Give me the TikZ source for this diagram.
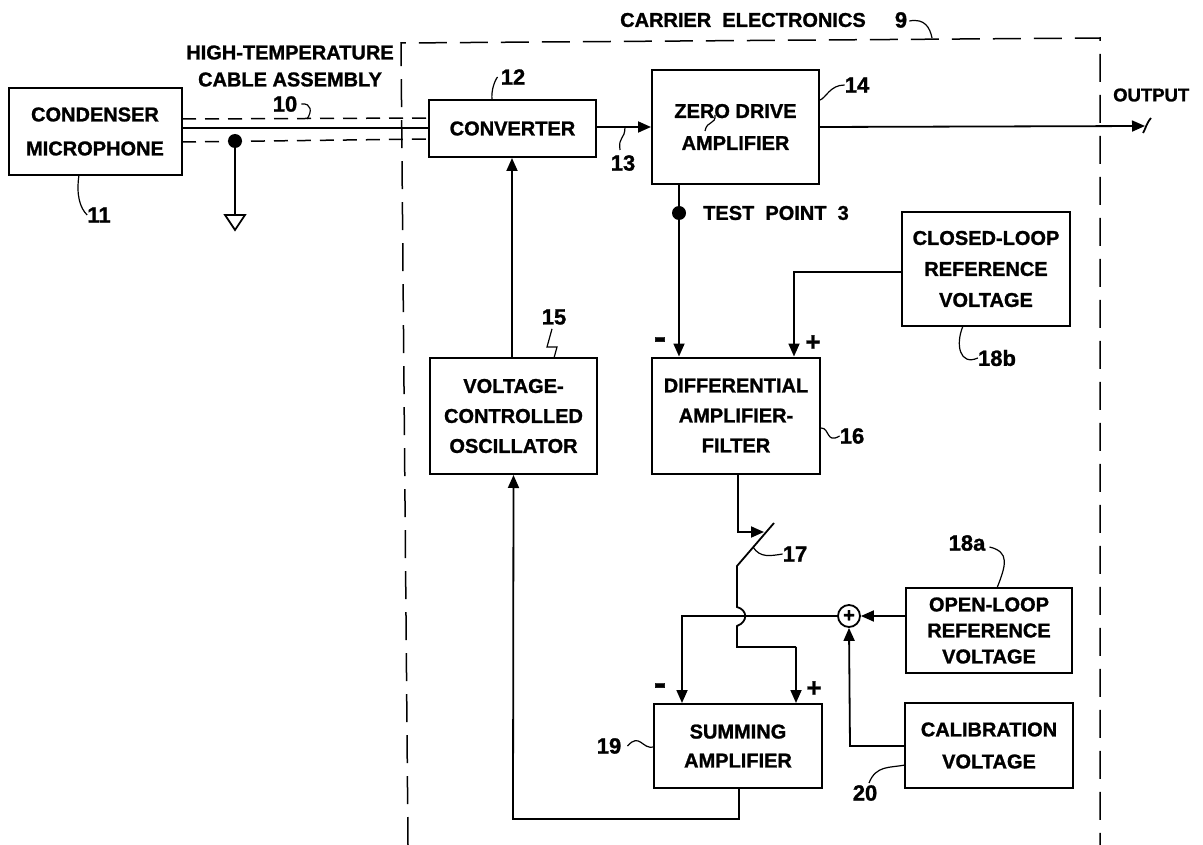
\documentclass[tikz,border=0pt]{standalone}
\usepackage{fontspec}
\setmainfont[BoldFeatures={FakeBold=1.2}]{Liberation Sans}
\usepackage{tikz}
\usetikzlibrary{arrows.meta,calc,shapes.geometric}
\tikzset{
    >={Triangle[length=13pt,width=11pt]},
    blockbox/.style={
        rectangle,
        draw, line width=2pt,
        inner sep=0pt,
        align=center,
        font=\fontsize{20}{#1}\selectfont\bfseries
    },
    blockbox/.default=31,
    caption/.style={inner sep=0pt, align=center, font=\fontsize{20}{27}\selectfont\bfseries},
    numlabel/.style={inner sep=0pt, font=\fontsize{22}{22}\selectfont\bfseries},
    signlabel/.style={inner sep=0pt, font=\fontsize{26}{26}\selectfont\bfseries},
    minuslabel/.style={inner sep=0pt, font=\fontsize{36}{36}\selectfont\bfseries},
    line/.style={draw, line width=1.8pt},
    flow/.style={draw, line width=1.8pt, ->},
    leader/.style={draw, line width=1.2pt},
    dashline/.style={draw, line width=1.5pt, dash pattern=on 28pt off 13pt},
    cabledash/.style={draw, line width=1.5pt, dash pattern=on 14pt off 9pt},
    junction/.style={circle, fill=black, inner sep=0pt, minimum size=14pt},
}
\begin{document}
\begin{tikzpicture}[x=1pt,y=-1pt]
\useasboundingbox (0,0) rectangle (1203,845);
% blocks
\node[blockbox=34, minimum width=173pt, minimum height=87pt] (mic) at (95,131.5) {CONDENSER\\MICROPHONE};
\node[blockbox, minimum width=167pt, minimum height=57pt] (conv) at (512.5,128.5) {CONVERTER};
\node[blockbox=32, minimum width=167pt, minimum height=114pt] (amp) at (735.5,127) {ZERO DRIVE\\AMPLIFIER};
\node[blockbox=30, minimum width=167pt, minimum height=116pt] (vco) at (513.5,416) {VOLTAGE-\\CONTROLLED\\OSCILLATOR};
\node[blockbox=30, minimum width=168pt, minimum height=116pt] (diff) at (736,415.5) {DIFFERENTIAL\\AMPLIFIER-\\FILTER};
\node[blockbox=31, minimum width=168pt, minimum height=114pt] (closed) at (986,269) {CLOSED-LOOP\\REFERENCE\\VOLTAGE};
\node[blockbox=26, minimum width=166pt, minimum height=85pt] (open) at (989,630.5) {OPEN-LOOP\\REFERENCE\\VOLTAGE};
\node[blockbox=32, minimum width=168pt, minimum height=85pt] (calib) at (989,745.5) {CALIBRATION\\VOLTAGE};
\node[blockbox=29, minimum width=168pt, minimum height=84pt] (summ) at (738,746) {SUMMING\\AMPLIFIER};
\node[draw, circle, line width=1.8pt, inner sep=0pt, minimum size=22pt, font=\fontsize{20}{20}\selectfont\bfseries] (sumpt) at (849,616) {+};

% captions
\node[caption] (cable) at (290,66) {HIGH-TEMPERATURE\\CABLE ASSEMBLY};
\node[caption, anchor=west] (carrier) at (620,20) {CARRIER\ \ ELECTRONICS};
\node[caption, anchor=west, font=\fontsize{18.5}{20}\selectfont\bfseries] (out) at (1113,95) {OUTPUT};
\node[caption, anchor=west] (tplabel) at (703,213) {TEST\ \ POINT\ \ 3};

% numbers
\node[numlabel] (n9) at (901,20) {9};
\node[numlabel] (n10) at (285,104) {10};
\node[numlabel] (n11) at (99,215) {11};
\node[numlabel] (n12) at (513,77) {12};
\node[numlabel] (n13) at (623,163) {13};
\node[numlabel] (n14) at (857,85) {14};
\node[numlabel] (n15) at (554,317) {15};
\node[numlabel] (n16) at (852,436) {16};
\node[numlabel] (n17) at (795,554) {17};
\node[numlabel] (n18a) at (967,543) {18a};
\node[numlabel] (n18b) at (997,358) {18b};
\node[numlabel] (n19) at (609,746) {19};
\node[numlabel] (n20) at (865,793) {20};

% signs
\node[minuslabel] (m1) at (660,343) {-};
\node[signlabel] (p1) at (813,343) {+};
\node[minuslabel] (m2) at (660,689) {-};
\node[signlabel] (p2) at (814,689) {+};

% dashed boundary
\coordinate (fa) at (408,845);
\coordinate (fb) at (401,43);
\coordinate (fc) at (1100,38);
\coordinate (fd) at (1100,845);
\draw[dashline] (fa) -- (fb) -- (fc) -- (fd);

% cable
\coordinate (sa) at (182,119);
\coordinate (sb) at (429,118);
\coordinate (sc) at (182,142);
\coordinate (sd) at (429,139);
\coordinate (se0) at (182,128);
\coordinate (ga) at (225,215);
\coordinate (gb) at (245,215);
\coordinate (gc) at (235,230);
\coordinate (gt) at (235,215);
\node[junction] (gnd) at (235,141) {};
\draw[cabledash] (sa) -- (sb);
\draw[cabledash] (sc) -- (sd);
\draw[line] (se0) -- (se0 -| conv.west);
\draw[line] (gnd) -- (gt);
\draw[line] (ga) -- (gb) -- (gc) -- cycle;

% signal paths
\coordinate (oe) at (1145,126);
\coordinate (xa) at (1151,118);
\coordinate (xb) at (1143,133);
\coordinate (vt) at (512,300);
\node[junction] (tp) at (679,213) {};
\draw[flow] (conv.east |- amp.west) -- (amp.west);
\draw[flow] (amp.east) -- (oe);
\draw[line] (xa) .. controls (1146,124) and (1146,128) .. (xb);
\draw[line] (tp |- amp.south) -- (tp);
\draw[flow] (tp) -- (tp |- diff.north);
\coordinate (cl) at (794,272);
\draw[flow] (closed.west |- cl) -- (cl) -- (cl |- diff.north);
\draw[flow] (vt |- vco.north) -- (vt |- conv.south);

% switch and summing inputs
\coordinate (wa) at (738,532);
\coordinate (wb) at (764,532);
\coordinate (sw1) at (774,523);
\coordinate (sw2) at (737,566);
\coordinate (h1) at (737,607);
\coordinate (h2) at (737,626);
\coordinate (wc) at (737,647);
\coordinate (wd) at (796,647);
\coordinate (se) at (682,616);
\draw[line, ->] (wa |- diff.south) -- (wa) -- (wb);
\draw[line] (sw1) -- (sw2) -- (h1) .. controls (748,610) and (748,622) .. (h2) -- (wc) -- (wd);
\draw[flow] (wd) -- (wd |- summ.north);
\draw[flow] (sumpt.west) -- (se) -- (se |- summ.north);
\draw[flow] (open.west |- sumpt) -- (sumpt.east);
\coordinate (ca) at (850,746);
\draw[flow] (calib.west |- ca) -- (ca) -- (sumpt.south);

% feedback
\coordinate (fb1) at (739,819);
\coordinate (fb2) at (513,819);
\draw[flow] (fb1 |- summ.south) -- (fb1) -- (fb2) -- (vco.south);

% leaders
\coordinate (l9) at (932,38);
\coordinate (l10) at (307,119);
\coordinate (l11) at (79,175);
\coordinate (l12) at (492,100);
\coordinate (l13) at (625,127);
\coordinate (l14) at (820,100);
\coordinate (l15) at (554,358);
\coordinate (l16) at (821,428);
\coordinate (l17) at (753,547);
\coordinate (l18a) at (997,588);
\coordinate (l18b) at (963,326);
\coordinate (l19) at (654,747);
\coordinate (l20) at (905,765);
\coordinate (sq1) at (715,115);
\coordinate (sq2) at (705,131);
\draw[leader] (n9.east) ++(2,1) .. controls (925,18) and (930,28) .. (l9);
\draw[leader] (n10.east) ++(4,0) .. controls (312,103) and (312,112) .. (l10);
\draw[leader] (l11) .. controls (76,195) and (80,208) .. (n11.west);
\draw[leader] (n12.west) ++(-3,0) .. controls (495,80) and (491,90) .. (l12);
\draw[leader] (l13) .. controls (625,140) and (618,136) .. (620,150);
\draw[leader] (l14) .. controls (826,98) and (830,85) .. (n14.west);
\draw[leader] (n15.south) ++(-2,4) -- (547,347) -- (557,347) -- (l15);
\draw[leader] (l16) .. controls (830,428) and (826,444) .. (n16.west);
\draw[leader] (l17) .. controls (760,558) and (770,556) .. (n17.west);
\draw[leader] (n18a.east) ++(4,4) .. controls (1010,552) and (1006,565) .. (l18a);
\draw[leader] (l18b) .. controls (955,345) and (960,366) .. (n18b.west);
\draw[leader] (n19.east) ++(6,0) .. controls (640,732) and (642,750) .. (l19);
\draw[leader] (n20.north) ++(4,-2) .. controls (876,765) and (890,768) .. (l20);
\draw[leader] (sq1) .. controls (716,125) and (707,120) .. (sq2);
\end{tikzpicture}
\end{document}
